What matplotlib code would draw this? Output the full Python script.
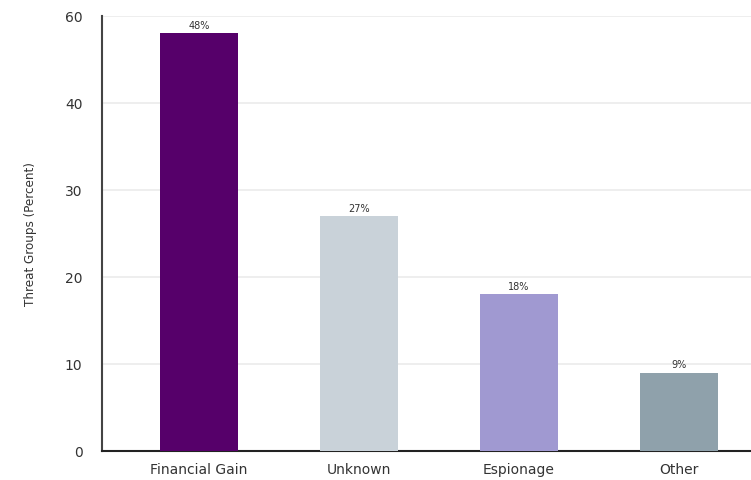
import matplotlib.pyplot as plt

categories = ['Financial Gain', 'Unknown', 'Espionage', 'Other']
values = [48, 27, 18, 9]
bar_labels = ['48%', '27%', '18%', '9%']
colors = ['#56006a', '#c9d2d9', '#a099d1', '#8fa1ab']
ytick_pos = [0, 10, 20, 30, 40, 50]
ytick_labels = ['0', '10', '20', '30', '40', '60']

fig = plt.figure(figsize=(7.51, 4.81), dpi=100)
ax = fig.add_axes([102/751, (481-452)/481, 1 - 102/751, 435/481])

x = range(len(categories))
bars = ax.bar(x, values, width=0.49, color=colors, zorder=3)
for b, lab in zip(bars, bar_labels):
    ax.text(b.get_x() + b.get_width()/2, b.get_height() + 0.4, lab,
            ha='center', va='bottom', fontsize=7, color='#333333')

ax.set_xlim(-0.606, 3.45)
ax.set_ylim(0, 50)
ax.set_yticks(ytick_pos)
ax.set_yticklabels(ytick_labels)
ax.set_xticks(list(x))
ax.set_xticklabels(categories)
ax.tick_params(axis='both', length=0, labelsize=10, colors='#333333')
ax.tick_params(axis='y', pad=14)
ax.tick_params(axis='x', pad=8)
ax.yaxis.grid(True, color='#ebebeb', linewidth=1.2, zorder=0)

ax.spines['top'].set_visible(False)
ax.spines['right'].set_visible(False)
ax.spines['left'].set_color('#444444')
ax.spines['left'].set_linewidth(1.5)
ax.spines['bottom'].set_color('#222222')
ax.spines['bottom'].set_linewidth(1.5)

ax.set_ylabel('Threat Groups (Percent)', fontsize=9.5, color='#333333',
              fontfamily='DejaVu Sans', fontstretch='condensed', labelpad=20)

fig.savefig('out.png', dpi=100)
